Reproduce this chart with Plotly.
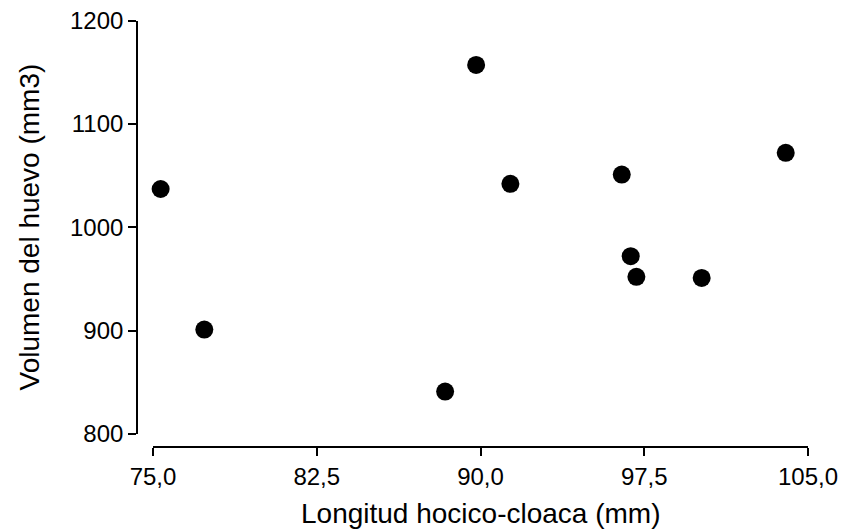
import plotly.graph_objects as go

# Snout-vent length (mm) and egg volume (mm3) per female
longitud = [75.35, 77.35, 88.38, 89.80, 91.37, 96.47, 96.88, 97.14, 100.13, 103.98]
volumen = [1037, 901, 841, 1157, 1042, 1051, 972, 952, 951, 1072]

x_ticks = [75.0, 82.5, 90.0, 97.5, 105.0]
x_labels = ["75,0", "82,5", "90,0", "97,5", "105,0"]
y_ticks = [800, 900, 1000, 1100, 1200]
y_labels = ["800", "900", "1000", "1100", "1200"]

W, H = 843, 531
FONT = "Liberation Sans, Arial, sans-serif"

fig = go.Figure()
fig.add_trace(go.Scatter(
    x=longitud, y=volumen, mode="markers",
    marker=dict(size=18, color="black", line=dict(width=0)),
    cliponaxis=False, showlegend=False,
))

axis_common = dict(
    showgrid=False, zeroline=False, showline=True, linecolor="black",
    linewidth=1.6, ticks="outside", ticklen=8, tickwidth=1.6,
    tickcolor="black", tickfont=dict(family=FONT, size=24, color="black"),
    automargin=False,
)

fig.update_layout(
    width=W, height=H,
    margin=dict(l=0, r=0, t=0, b=0, pad=0, autoexpand=False),
    paper_bgcolor="white", plot_bgcolor="white",
    font=dict(family=FONT, color="black"),
    xaxis=dict(
        **axis_common,
        range=[75, 105], domain=[153 / W, 808 / W],
        tickvals=x_ticks, ticktext=x_labels,
        anchor="free", position=(H - 447) / H,
    ),
    yaxis=dict(
        **axis_common,
        range=[800, 1200], domain=[(H - 434) / H, (H - 20.5) / H],
        tickvals=y_ticks, ticktext=y_labels,
        anchor="free", position=137 / W,
    ),
    annotations=[
        dict(text="Longitud hocico-cloaca (mm)", xref="paper", yref="paper",
             x=481 / W, y=(H - 513) / H, xanchor="center", yanchor="middle",
             showarrow=False, font=dict(family=FONT, size=28, color="black")),
        dict(text="Volumen del huevo (mm3)", xref="paper", yref="paper",
             x=28.5 / W, y=(H - 227) / H, xanchor="center", yanchor="middle",
             textangle=-90, showarrow=False,
             font=dict(family=FONT, size=28, color="black")),
    ],
)

fig.write_html("out.html")
